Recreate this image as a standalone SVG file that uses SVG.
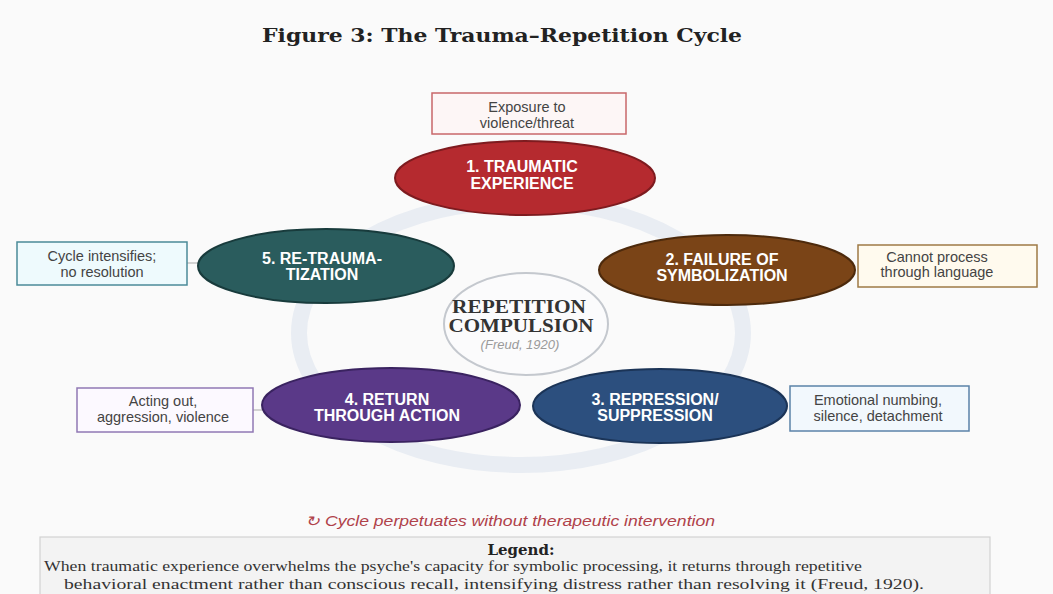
<svg xmlns="http://www.w3.org/2000/svg" width="1053" height="594" viewBox="0 0 1053 594">
<style>
.title{font-family:"DejaVu Serif","Liberation Serif",serif;font-weight:bold;font-size:19px;fill:#222}
.node ellipse{stroke-width:2}
.nt{font-family:"Liberation Sans",Arial,sans-serif;font-weight:bold;font-size:16px;fill:#ffffff;text-anchor:middle}
.bt{font-family:"Liberation Sans",Arial,sans-serif;font-size:14.5px;fill:#444;text-anchor:middle}
.ct{font-family:"Liberation Serif","Times New Roman",serif;font-weight:bold;font-size:18px;fill:#333;text-anchor:middle}
.fr{font-family:"Liberation Sans",Arial,sans-serif;font-style:italic;font-size:13px;fill:#9a9a9a;text-anchor:middle}
.ft{font-family:"Liberation Sans",Arial,sans-serif;font-style:italic;font-size:14px;fill:#b0424a}
.lg{font-family:"Liberation Serif","Times New Roman",serif;font-size:15px;fill:#333}
.lgh{font-family:"DejaVu Serif","Liberation Serif",serif;font-weight:bold;font-size:15px;fill:#222;text-anchor:middle}
.conn line{stroke:#b8b8b8;stroke-width:1.2}
</style>
<rect x="0" y="0" width="1053" height="594" fill="#fafafa"/>
<text class="title" x="262" y="42" textLength="480" lengthAdjust="spacingAndGlyphs">Figure 3: The Trauma–Repetition Cycle</text>

<g id="ring">
<ellipse cx="521" cy="333" rx="222" ry="132" fill="none" stroke="#e9edf3" stroke-width="16"/>
</g>

<g id="connectors" class="conn">
<line x1="253" y1="410" x2="263" y2="410"/>
<line x1="187" y1="263" x2="199" y2="263"/>
</g>

<g id="center">
<ellipse cx="526" cy="324" rx="82" ry="51" fill="#fbfbfc" stroke="#c4c8ce" stroke-width="2"/>
<text class="ct" x="519" y="313" textLength="134" lengthAdjust="spacingAndGlyphs">REPETITION</text>
<text class="ct" x="521" y="332" textLength="145" lengthAdjust="spacingAndGlyphs">COMPULSION</text>
<text class="fr" x="520" y="349">(Freud, 1920)</text>
</g>

<g id="node1" class="node">
<ellipse cx="525" cy="178" rx="130" ry="37" fill="#b52a2f" stroke="#7e1b1f"/>
<text class="nt" x="522" y="172">1. TRAUMATIC</text>
<text class="nt" x="522" y="189">EXPERIENCE</text>
</g>
<g id="box1">
<rect x="432" y="93" width="194" height="41" fill="#fdf6f6" stroke="#c8676a" stroke-width="1.5"/>
<text class="bt" x="527" y="112">Exposure to</text>
<text class="bt" x="527" y="128">violence/threat</text>
</g>

<g id="node2" class="node">
<ellipse cx="727" cy="270" rx="128" ry="35" fill="#7a4417" stroke="#4d2a0c"/>
<text class="nt" x="722" y="265">2. FAILURE OF</text>
<text class="nt" x="722" y="281">SYMBOLIZATION</text>
</g>
<g id="box2">
<rect x="858" y="245" width="179" height="42" fill="#fffaee" stroke="#9e7a45" stroke-width="1.5"/>
<text class="bt" x="937" y="262">Cannot process</text>
<text class="bt" x="937" y="277">through language</text>
</g>

<g id="node3" class="node">
<ellipse cx="660" cy="406" rx="127" ry="37" fill="#2c4f7e" stroke="#1b3457"/>
<text class="nt" x="655" y="405">3. REPRESSION/</text>
<text class="nt" x="655" y="421">SUPPRESSION</text>
</g>
<g id="box3">
<rect x="790" y="386" width="179" height="45" fill="#f2f8fd" stroke="#5b82a8" stroke-width="1.5"/>
<text class="bt" x="878" y="405">Emotional numbing,</text>
<text class="bt" x="878" y="421">silence, detachment</text>
</g>

<g id="node4" class="node">
<ellipse cx="391" cy="405" rx="129" ry="37" fill="#5a3988" stroke="#3a2360"/>
<text class="nt" x="387" y="405">4. RETURN</text>
<text class="nt" x="387" y="421">THROUGH ACTION</text>
</g>
<g id="box4">
<rect x="77" y="388" width="176" height="44" fill="#fcf9ff" stroke="#9078b4" stroke-width="1.5"/>
<text class="bt" x="163" y="406">Acting out,</text>
<text class="bt" x="163" y="422">aggression, violence</text>
</g>

<g id="node5" class="node">
<ellipse cx="326" cy="266" rx="128" ry="37" fill="#2a5c5d" stroke="#183b3c"/>
<text class="nt" x="322" y="264">5. RE-TRAUMA-</text>
<text class="nt" x="322" y="280">TIZATION</text>
</g>
<g id="box5">
<rect x="17" y="242" width="170" height="43" fill="#eefafd" stroke="#4b8a98" stroke-width="1.5"/>
<text class="bt" x="102" y="261">Cycle intensifies;</text>
<text class="bt" x="102" y="277">no resolution</text>
</g>

<text class="ft" x="305" y="526" textLength="410" lengthAdjust="spacingAndGlyphs">↻ Cycle perpetuates without therapeutic intervention</text>

<g id="legend">
<rect x="40" y="537" width="950" height="70" fill="#f3f3f3" stroke="#d2d2d2" stroke-width="1.2"/>
<text class="lgh" x="521" y="555">Legend:</text>
<text class="lg" x="44" y="571" textLength="818" lengthAdjust="spacingAndGlyphs">When traumatic experience overwhelms the psyche's capacity for symbolic processing, it returns through repetitive</text>
<text class="lg" x="64" y="589" textLength="860" lengthAdjust="spacingAndGlyphs">behavioral enactment rather than conscious recall, intensifying distress rather than resolving it (Freud, 1920).</text>
</g>
</svg>
